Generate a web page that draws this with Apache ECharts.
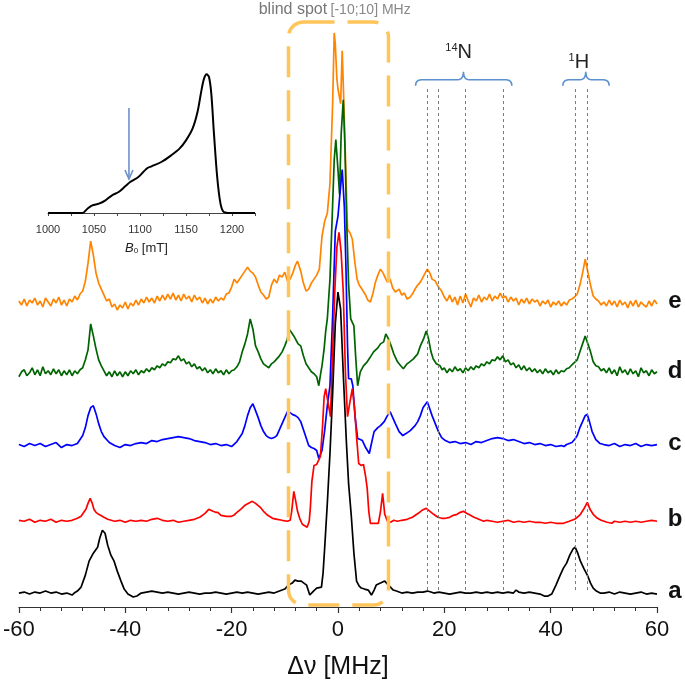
<!DOCTYPE html>
<html><head><meta charset="utf-8">
<script src="https://cdn.jsdelivr.net/npm/echarts@6/dist/echarts.min.js"></script>
<style>html,body{margin:0;padding:0;background:#fff}#c{width:685px;height:685px}</style>
</head><body><div id="c"></div>
<script>
// ---- data ----
const traceNames = ['e', 'd', 'c', 'b', 'a'];
const traceColors = ['#FF8400', '#006400', '#0000FF', '#FF0000', '#000000'];
const baselines = [305, 234, 162, 86, 14]; // vertical stacking offsets of each trace
const xTickValues = [-60, -40, -20, 0, 20, 40, 60];

const traceE = [[-60,2],[-59.5,-2],[-59,4],[-58.5,-3],[-58,3],[-57.5,0],[-57,5],[-56.5,-2],[-56,2],[-55.5,-4],[-55,5],[-54.5,1],[-54,-3],[-53.5,4],[-53,0],[-52.5,6],[-52,-2],[-51.5,3],[-51,-3],[-50.5,4],[-50,1],[-49.5,7],[-49,3],[-48.5,9],[-48,12],[-47.5,22],[-47,40],[-46.5,62],[-46,48],[-45.5,30],[-45,20],[-44.5,14],[-44,8],[-43.5,2],[-43,4],[-42.5,-4],[-42,-1],[-41.5,-7],[-41,-2],[-40.5,-5],[-40,1],[-39.5,-6],[-39,0],[-38.5,-3],[-38,3],[-37.5,-2],[-37,4],[-36.5,0],[-36,6],[-35.5,1],[-35,5],[-34.5,0],[-34,7],[-33.5,2],[-33,8],[-32.5,3],[-32,9],[-31.5,4],[-31,10],[-30.5,3],[-30,8],[-29.5,2],[-29,9],[-28.5,4],[-28,7],[-27.5,1],[-27,8],[-26.5,3],[-26,6],[-25.5,0],[-25,5],[-24.5,-1],[-24,4],[-23.5,0],[-23,6],[-22.5,2],[-22,5],[-21.5,3],[-21,9],[-20.5,10],[-20,16],[-19.5,24],[-19,20],[-18,28],[-17,36],[-16.5,32],[-16,30],[-15.5,26],[-15,18],[-14.5,11],[-14,8],[-13.5,4],[-13,6],[-12.5,18],[-12,24],[-11.5,20],[-11,28],[-10.5,26],[-10,31],[-9.5,22],[-9,24],[-8.5,30],[-8,38],[-7.6,42],[-7,32],[-6.5,20],[-6,12],[-5.5,14],[-5,20],[-4.5,24],[-4,28],[-3.5,34],[-3,67],[-2.5,82],[-2,90],[-1.5,120],[-1,200],[-0.7,271],[-0.5,260],[-0.2,225],[0,215],[0.5,200],[0.8,253],[1.1,203],[1.5,130],[1.8,74],[2.3,70],[2.7,64],[3.2,40],[3.6,24],[4,18],[4.5,14],[4.8,12],[5.2,8],[5.6,3],[6.1,1],[6.6,10],[7,20],[7.5,28],[8,34],[8.5,30],[9,24],[9.3,21],[9.8,24],[10.3,15],[10.8,11],[11.5,14],[12,8],[12.5,10],[13,4],[13.6,6],[14,9],[14.5,14],[15,18],[15.5,21],[16,26],[16.8,34],[17.3,30],[17.7,24],[18.3,22],[18.9,16],[19.5,12],[20,6],[20.5,2],[21,8],[21.5,1],[22,6],[22.5,-2],[23,7],[23.5,0],[24,9],[24.5,2],[25,-4],[25.5,5],[26,2],[26.5,8],[27,1],[27.5,6],[28,3],[28.5,9],[29,2],[29.5,7],[30,4],[30.5,10],[31,5],[31.5,7],[32,1],[32.5,6],[33,2],[33.5,5],[34,-2],[34.5,4],[35,0],[35.5,5],[36,-1],[36.5,4],[37,1],[37.5,3],[38,-3],[38.5,2],[39,-1],[39.5,3],[40,-4],[40.5,1],[41,-2],[41.5,2],[42,-3],[42.5,1],[43,-2],[43.5,3],[44,4],[44.5,6],[45,9],[45.5,18],[46,30],[46.5,44],[47,31],[47.5,18],[48,7],[48.5,4],[49,2],[49.5,-2],[50,1],[50.5,-3],[51,3],[51.5,-2],[52,2],[52.5,-4],[53,3],[53.5,-2],[54,1],[54.5,-5],[55,2],[55.5,-3],[56,3],[56.5,-4],[57,1],[57.5,-2],[58,-4],[58.5,2],[59,-3],[59.5,3],[60,-1]];

const traceD = [[-60,-3],[-59.5,2],[-59,4],[-58.5,-2],[-58,1],[-57.5,6],[-57,-1],[-56.5,4],[-56,-2],[-55.5,7],[-55,0],[-54.5,3],[-54,-1],[-53.5,5],[-53,0],[-52.5,4],[-52,-2],[-51.5,3],[-51,-1],[-50.5,4],[-50,-2],[-49.5,3],[-49,0],[-48.5,4],[-48,6],[-47.5,14],[-47,24],[-46.5,50],[-46,38],[-45.5,25],[-45,14],[-44.5,8],[-44,3],[-43.5,-2],[-43,2],[-42.5,-3],[-42,3],[-41.5,-2],[-41,2],[-40.5,-3],[-40,2],[-39.5,-2],[-39,3],[-38.5,0],[-38,4],[-37.5,-1],[-37,3],[-36.5,1],[-36,5],[-35.5,2],[-35,6],[-34.5,4],[-34,8],[-33.5,6],[-33,10],[-32.5,8],[-32,12],[-31.5,11],[-31,15],[-30.5,14],[-30,18],[-29.5,13],[-29,15],[-28.5,10],[-28,12],[-27.5,7],[-27,10],[-26.5,5],[-26,7],[-25.5,3],[-25,6],[-24.5,1],[-24,4],[-23.5,0],[-23,5],[-22.5,1],[-22,3],[-21.5,-1],[-21,4],[-20.5,0],[-20,3],[-19.5,4],[-19,7],[-18.5,12],[-18,22],[-17.5,30],[-17,40],[-16.5,55],[-16,45],[-15.5,28],[-15,22],[-14.5,15],[-14,10],[-13.5,8],[-13,6],[-12.5,10],[-12,12],[-11,18],[-10.5,22],[-10,28],[-9.5,35],[-9.2,45],[-8.8,42],[-8.3,38],[-7.5,30],[-7,28],[-6.5,18],[-6,10],[-5.5,6],[-5,2],[-4.5,0],[-4,-3],[-3.6,-12],[-3.2,2],[-3,8],[-2.6,25],[-2.3,43],[-2,55],[-1.5,95],[-1,170],[-0.7,215],[-0.4,235],[0,205],[0.3,180],[0.6,240],[1,275],[1.3,230],[1.6,160],[2,90],[2.4,55],[3,48],[3.3,20],[3.7,-12],[4.2,2],[4.8,8],[5.5,12],[6,16],[6.7,22],[7.5,26],[8,30],[8.6,32],[9,40],[9.5,35],[10,28],[10.5,20],[11.2,12],[11.8,8],[12.3,5],[13,10],[13.5,12],[14.2,15],[15,20],[15.5,28],[16.1,35],[16.6,43],[17,36],[17.5,22],[17.9,15],[18.5,10],[19.2,8],[19.6,4],[20,6],[20.5,1],[21,5],[21.5,2],[22,7],[22.5,3],[23,5],[23.5,1],[24,6],[24.5,3],[25,7],[25.5,4],[26,8],[26.5,6],[27,10],[27.5,8],[28,12],[28.5,10],[29,14],[29.5,13],[30,17],[30.5,14],[31,18],[31.5,12],[32,14],[32.5,9],[33,11],[33.5,6],[34,9],[34.5,4],[35,8],[35.5,3],[36,6],[36.5,2],[37,5],[37.5,1],[38,4],[38.5,0],[39,5],[39.5,1],[40,3],[40.5,-1],[41,4],[41.5,0],[42,3],[42.5,2],[43,5],[43.5,6],[44,9],[45,14],[45.5,22],[46,30],[46.5,38],[47,30],[47.5,22],[48,12],[48.5,8],[49,7],[49.5,3],[50,5],[50.5,1],[51,6],[51.5,0],[52,4],[52.5,-2],[53,7],[53.5,1],[54,4],[54.5,-1],[55,5],[55.5,0],[56,3],[56.5,-3],[57,6],[57.5,1],[58,3],[58.5,-2],[59,4],[59.5,0],[60,2]];

const traceC = [[-60,1],[-59,-1],[-58,2],[-57,0],[-56,2],[-55,-1],[-54,1],[-53,3],[-52,-2],[-51,1],[-50,0],[-49,2],[-48,10],[-47.5,18],[-47,30],[-46.5,38],[-46,40],[-45.5,32],[-45,22],[-44.5,14],[-44,9],[-43,3],[-42,0],[-41,-2],[-40,1],[-39,0],[-38,2],[-37,3],[-36,2],[-35,5],[-34,4],[-33,6],[-32,7],[-31,8],[-30,9],[-29,8],[-28,7],[-27,5],[-26,4],[-25,3],[-24,1],[-23,2],[-22,0],[-21,1],[-20,-1],[-19,4],[-18.5,8],[-18,12],[-17.5,20],[-17,30],[-16.5,38],[-16,42],[-15.5,35],[-15,28],[-14.5,20],[-14,14],[-13.5,10],[-13,8],[-12.5,7],[-12,8],[-11.5,10],[-11,16],[-10.5,22],[-10,28],[-9.5,34],[-9,33],[-8.5,31],[-8,30],[-7.5,28],[-7,24],[-6.5,16],[-6,8],[-5.5,0],[-5,-2],[-4.5,-3],[-4,-5],[-3.6,-13],[-3,-5],[-2.5,15],[-2,40],[-1.5,60],[-1,130],[-0.5,215],[0,230],[0.5,260],[0.8,277],[1.2,240],[1.5,180],[1.8,100],[2,67],[2.5,67],[2.8,60],[3.2,30],[3.7,7],[4.2,6],[4.6,5],[5.2,-2],[5.9,-8],[6.3,2],[6.8,14],[7.5,18],[8,20],[8.7,24],[9.3,30],[9.8,34],[10.3,28],[10.8,22],[11.5,14],[12.2,10],[12.8,12],[13.6,15],[14.5,20],[15,24],[15.5,30],[16,38],[16.8,44],[17.2,38],[17.7,30],[18.3,22],[18.9,14],[19.5,8],[20.2,5],[21,3],[22,4],[23,2],[24,3],[25,1],[26,4],[27,3],[28,5],[29,7],[30,8],[31,7],[32,5],[33,6],[34,4],[35,2],[36,3],[37,1],[38,2],[39,0],[40,1],[41,-1],[42,0],[42.5,-1],[43,1],[44,3],[44.5,6],[45,10],[45.5,18],[46,24],[46.5,30],[46.9,31],[47.3,24],[47.8,14],[48.5,6],[49.3,2],[50,1],[51,0],[52,2],[53,-1],[54,1],[55,0],[56,2],[57,-1],[58,1],[59,0],[60,1]];

const traceB = [[-60,1],[-59,0],[-58,2],[-57,-1],[-56,1],[-55,0],[-54,2],[-53,-1],[-52,1],[-51,0],[-50,1],[-49,3],[-48.3,5],[-47.8,9],[-47.4,12],[-47,18],[-46.6,23],[-46.2,18],[-45.9,12],[-45.5,9],[-45,7],[-44,4],[-43.3,2],[-42,0],[-41,1],[-40,-1],[-39,1],[-38,0],[-37,1],[-36,0],[-35,2],[-34,3],[-33,1],[-32,0],[-31,1],[-30,-1],[-29,0],[-28,1],[-27,2],[-26,4],[-25.5,6],[-25,8],[-24.3,12],[-23.5,10],[-23,9],[-22.6,9],[-22,6],[-21,5],[-20,5],[-19.6,6],[-19,9],[-18.3,12],[-17.5,16],[-16.8,18],[-16.1,20],[-15.5,18],[-14.6,14],[-14,10],[-13.2,6],[-12.3,3],[-11.4,2],[-10.5,1],[-9.5,0],[-9,1],[-8.7,10],[-8.3,30],[-8,22],[-7.6,10],[-7.2,3],[-6.7,-3],[-5.8,-6],[-5.4,0],[-5.2,13],[-4.9,40],[-4.5,56],[-4,57],[-3.7,58],[-3.3,65],[-2.9,95],[-2.6,125],[-2.3,133],[-1.9,120],[-1.4,105],[-1,170],[-0.6,230],[-0.2,275],[0.2,290],[0.6,270],[1,230],[1.4,150],[1.8,105],[2.2,118],[2.7,133],[3.1,115],[3.5,85],[3.9,58],[4.4,56],[4.8,57],[5.2,45],[5.5,33],[5.8,10],[6.1,-2],[6.8,-2],[7.6,-2],[8,10],[8.4,28],[8.8,7],[9.3,0],[9.9,-1],[10.5,1],[11.2,0],[12,1],[13,2],[14,4],[15.1,8],[15.8,11],[16.6,13],[17.3,10],[18,7],[18.8,4],[19.5,3],[20.2,3],[21,4],[21.7,6],[22.4,7],[23,9],[23.6,10],[24.2,8],[24.9,6],[25.6,4],[26.5,2],[27.4,0],[28,1],[29,0],[30,-1],[31,0],[32,1],[33,-1],[34,0],[35,-1],[36,0],[37,-1],[38,-1],[39,-2],[40,-1],[41,-2],[42.4,-2],[43.5,0],[44.5,2],[45,4],[45.6,7],[46.2,12],[46.9,19],[47.4,12],[48,7],[48.8,3],[49.5,1],[50.6,-1],[51.5,-2],[52,0],[53,-1],[54,0],[55,-1],[56,0],[57,-1],[58,0],[59,1],[60,0]];

const traceA = [[-60,0],[-59,1],[-58,-1],[-57,1],[-56,0],[-55,2],[-54,0],[-53,1],[-52,-1],[-51,0],[-50,-2],[-49.6,0],[-49,2],[-48.3,6],[-47.5,18],[-46.8,32],[-46,40],[-45.2,46],[-44.8,55],[-44.3,63],[-43.8,60],[-43.3,48],[-42.7,38],[-42.1,32],[-41.5,22],[-40.8,12],[-40.2,4],[-39.5,-1],[-38.5,-4],[-37.8,-3],[-37,0],[-36,1],[-35,2],[-34,1],[-33,0],[-32,1],[-31,0],[-30,-1],[-29,0],[-28,1],[-27,0],[-26,-1],[-25,0],[-24,0],[-23,1],[-22,0],[-21,-1],[-20,0],[-19,1],[-18,0],[-17,1],[-16,0],[-15,-1],[-14,0],[-13,1],[-12,0],[-11,2],[-10,4],[-9.3,8],[-8.6,10],[-8.1,13],[-7.5,12],[-6.9,12],[-6.4,10],[-5.9,8],[-5.3,-2],[-4.6,2],[-4,5],[-3.1,6],[-2.8,20],[-2.5,45],[-2,90],[-1.5,140],[-1,200],[-0.5,270],[0,302],[0.5,285],[1,220],[1.6,150],[2,110],[2.5,78],[3,40],[3.5,12],[4,7],[4.4,5],[5,4],[5.7,3],[6.3,-2],[6.8,3],[7.2,8],[8,10],[8.8,12],[9.5,8],[10.4,3],[11,2],[12,0],[13,1],[14,0],[15,1],[16,1],[16.8,2],[17.5,1],[18,0],[19,1],[20,0],[21,-1],[22,0],[23,1],[24,0],[25,0],[26,1],[27,0],[28,1],[29,0],[30,1],[31,0],[32,1],[33,0],[33.5,3],[34,1],[35,0],[36,1],[37,0],[38,-1],[38.8,-3],[39.5,-3],[40.2,-1],[41,8],[41.8,18],[42.4,25],[43,30],[43.6,38],[44.2,44],[44.6,46],[45.1,40],[45.6,32],[46.3,24],[46.9,18],[47.5,10],[48,5],[48.6,2],[49.3,0],[50,0],[51,1],[52,-1],[53,1],[54,0],[55,-1],[56,0],[57,1],[58,-1],[59,0],[60,-1]];

const traces = [traceE, traceD, traceC, traceB, traceA];

// inset EPR spectrum (B0 in mT, intensity)
const eprField = [1000,1037.5,1042.9,1048.2,1055.4,1062.5,1069.6,1076.8,1083.9,1089.3,1098.2,1107.1,1112.5,1123.2,1133.9,1142.9,1150,1157.1,1162.5,1166.8,1169.6,1172.5,1175,1177.5,1180.4,1183.9,1187.5,1191.1,1198.2,1225];
const eprIntensity = [0,0,13,23,28,38,53,63,80,93,108,133,140,153,173,193,218,253,303,368,403,416,408,358,238,108,28,3,0,0];
const eprArrowField = 1088;

// dashed marker lines
const n14Lines = [16.75, 18.9, 23.9, 31.0];
const h1Lines = [44.7, 46.8];

const FONT = '"Liberation Sans", Arial, sans-serif';

const series = traces.map((t, i) => ({
  type: 'line',
  name: traceNames[i],
  xAxisIndex: 0, yAxisIndex: 0,
  data: t.map(p => [p[0], p[1] + baselines[i]]),
  showSymbol: false,
  symbol: 'none',
  lineStyle: { color: traceColors[i], width: 1.7 },
  itemStyle: { color: traceColors[i] },
  animation: false,
  silent: true
}));

series.push({
  type: 'line', xAxisIndex: 0, yAxisIndex: 0, data: [], silent: true, z: 1,
  markLine: {
    silent: true, symbol: 'none', animation: false,
    label: { show: false },
    lineStyle: { color: '#7a7a7a', width: 1, type: [3, 3] },
    data: n14Lines.concat(h1Lines).map(x => [{ coord: [x, 17] }, { coord: [x, 521] }])
  }
});

series.push({
  type: 'line', xAxisIndex: 1, yAxisIndex: 1,
  data: eprField.map((f, i) => [f, eprIntensity[i]]),
  showSymbol: false, smooth: 0.3,
  lineStyle: { color: '#000', width: 2 },
  animation: false, silent: true
});

const option = {
  animation: false,
  backgroundColor: '#fff',
  grid: [
    { left: 18, right: 28, top: 9, bottom: 76 },
    { left: 48, width: 207, top: 74, height: 146 }
  ],
  xAxis: [
    {
      type: 'value', gridIndex: 0, min: xTickValues[0], max: xTickValues[xTickValues.length - 1], interval: 20,
      axisLine: { lineStyle: { color: '#333', width: 1.2 } },
      axisTick: { show: true, length: 6, lineStyle: { color: '#333', width: 1.2 } },
      minorTick: { show: true, splitNumber: 5, length: 4, lineStyle: { color: '#333', width: 1 } },
      splitLine: { show: false },
      axisLabel: { fontSize: 22, color: '#111', margin: 12, fontFamily: FONT },
      name: 'Δν [MHz]', nameLocation: 'middle', nameGap: 48,
      nameTextStyle: { fontSize: 25, color: '#111', fontFamily: FONT }
    },
    {
      type: 'value', gridIndex: 1, min: 1000, max: 1225, interval: 25,
      axisLine: { lineStyle: { color: '#444', width: 1 } },
      axisTick: { show: true, length: 3, lineStyle: { color: '#444' } },
      splitLine: { show: false },
      axisLabel: { fontSize: 11, color: '#333', margin: 4, fontFamily: FONT,
        formatter: v => (v % 50 === 0 ? String(v) : '') }
    }
  ],
  yAxis: [
    { type: 'value', gridIndex: 0, min: 0, max: 600, show: false },
    { type: 'value', gridIndex: 1, min: -21, max: 417, show: false }
  ],
  series: series
};

const chart = echarts.init(document.getElementById('c'));
chart.setOption(option);

const P = (x, y) => chart.convertToPixel({ gridIndex: 0 }, [x, y]);
const Q = (x, y) => chart.convertToPixel({ gridIndex: 1 }, [x, y]);

const g = [];
// blind spot box
const b1 = P(-9.3, 587), b2 = P(9.5, 2);
g.push({ type: 'rect', z: 100, shape: { x: b1[0], y: b1[1], width: b2[0] - b1[0], height: b2[1] - b1[1], r: 15 },
  style: { fill: null, stroke: '#FFC55A', lineWidth: 3.5, lineDash: [31, 13] } });
// title above box
const tt = P(-14.9, 599);
g.push({ type: 'text', z: 100, x: tt[0], y: tt[1], style: {
  text: '{a|blind spot} {b|[-10;10] MHz}', textVerticalAlign: 'middle', textAlign: 'left',
  rich: { a: { fontSize: 16, fill: '#777', fontFamily: FONT }, b: { fontSize: 14, fill: '#888', fontFamily: FONT } } } });

// trace labels
traceNames.forEach((n, i) => {
  const p = P(60, baselines[i] + 2);
  g.push({ type: 'text', z: 100, x: p[0] + 18, y: p[1], style: { text: n, font: 'bold 24px ' + FONT, fill: '#111', textAlign: 'center', textVerticalAlign: 'middle' } });
});

// braces (drawn as polylines through quadratic-curve points)
function quad(p0, p1, p2, pts) {
  for (let k = 1; k <= 6; k++) {
    const t = k / 6, u = 1 - t;
    pts.push([u * u * p0[0] + 2 * u * t * p1[0] + t * t * p2[0], u * u * p0[1] + 2 * u * t * p1[1] + t * t * p2[1]]);
  }
}
function brace(x1, x2, xc, yv) {
  const a = P(x1, yv), b = P(x2, yv), c = P(xc, yv);
  const y = a[1];
  const pts = [[a[0], y + 6]];
  quad([a[0], y + 6], [a[0], y], [a[0] + 6, y], pts);
  pts.push([c[0] - 6, y]);
  quad([c[0] - 6, y], [c[0], y], [c[0], y - 8], pts);
  quad([c[0], y - 8], [c[0], y], [c[0] + 6, y], pts);
  pts.push([b[0] - 6, y]);
  quad([b[0] - 6, y], [b[0], y], [b[0], y + 6], pts);
  return pts;
}
g.push({ type: 'polyline', z: 100, shape: { points: brace(14.6, 32.7, 23.6, 529) }, style: { fill: null, stroke: '#5B8FD0', lineWidth: 1.6 } });
g.push({ type: 'polyline', z: 100, shape: { points: brace(42.3, 51.0, 46.6, 529) }, style: { fill: null, stroke: '#5B8FD0', lineWidth: 1.6 } });
const nl = P(22.7, 556), hl = P(45.3, 546);
g.push({ type: 'text', z: 100, x: nl[0], y: nl[1], style: { text: '{s|14}{n|N}', textAlign: 'center', textVerticalAlign: 'middle',
  rich: { s: { fontSize: 11, fill: '#222', fontFamily: FONT, verticalAlign: 'top', padding: [0, 0, 8, 0] }, n: { fontSize: 20, fill: '#222', fontFamily: FONT } } } });
g.push({ type: 'text', z: 100, x: hl[0], y: hl[1], style: { text: '{s|1}{n|H}', textAlign: 'center', textVerticalAlign: 'middle',
  rich: { s: { fontSize: 11, fill: '#222', fontFamily: FONT, verticalAlign: 'top', padding: [0, 0, 8, 0] }, n: { fontSize: 20, fill: '#222', fontFamily: FONT } } } });

// inset arrow
const at = Q(eprArrowField, 315), ab = Q(eprArrowField, 102);
g.push({ type: 'line', z: 100, shape: { x1: at[0], y1: at[1], x2: ab[0], y2: ab[1] }, style: { stroke: '#6E90C8', lineWidth: 1.6 } });
g.push({ type: 'polyline', z: 100, shape: { points: [[ab[0] - 4, ab[1] - 9], [ab[0], ab[1]], [ab[0] + 4, ab[1] - 9]] }, style: { fill: null, stroke: '#6E90C8', lineWidth: 1.6 } });
// inset axis name
const bl = Q(1107, -105);
g.push({ type: 'text', z: 100, x: bl[0], y: bl[1], style: { text: '{b|B}{s|0}{t| [mT]}', textAlign: 'center', textVerticalAlign: 'middle',
  rich: { b: { fontSize: 13, fontStyle: 'italic', fill: '#222', fontFamily: FONT }, s: { fontSize: 8, fill: '#222', fontFamily: FONT, verticalAlign: 'bottom', padding: [6, 0, 0, 0] }, t: { fontSize: 13, fill: '#222', fontFamily: FONT } } } });

chart.setOption({ graphic: { elements: g } });
</script>
</body></html>
